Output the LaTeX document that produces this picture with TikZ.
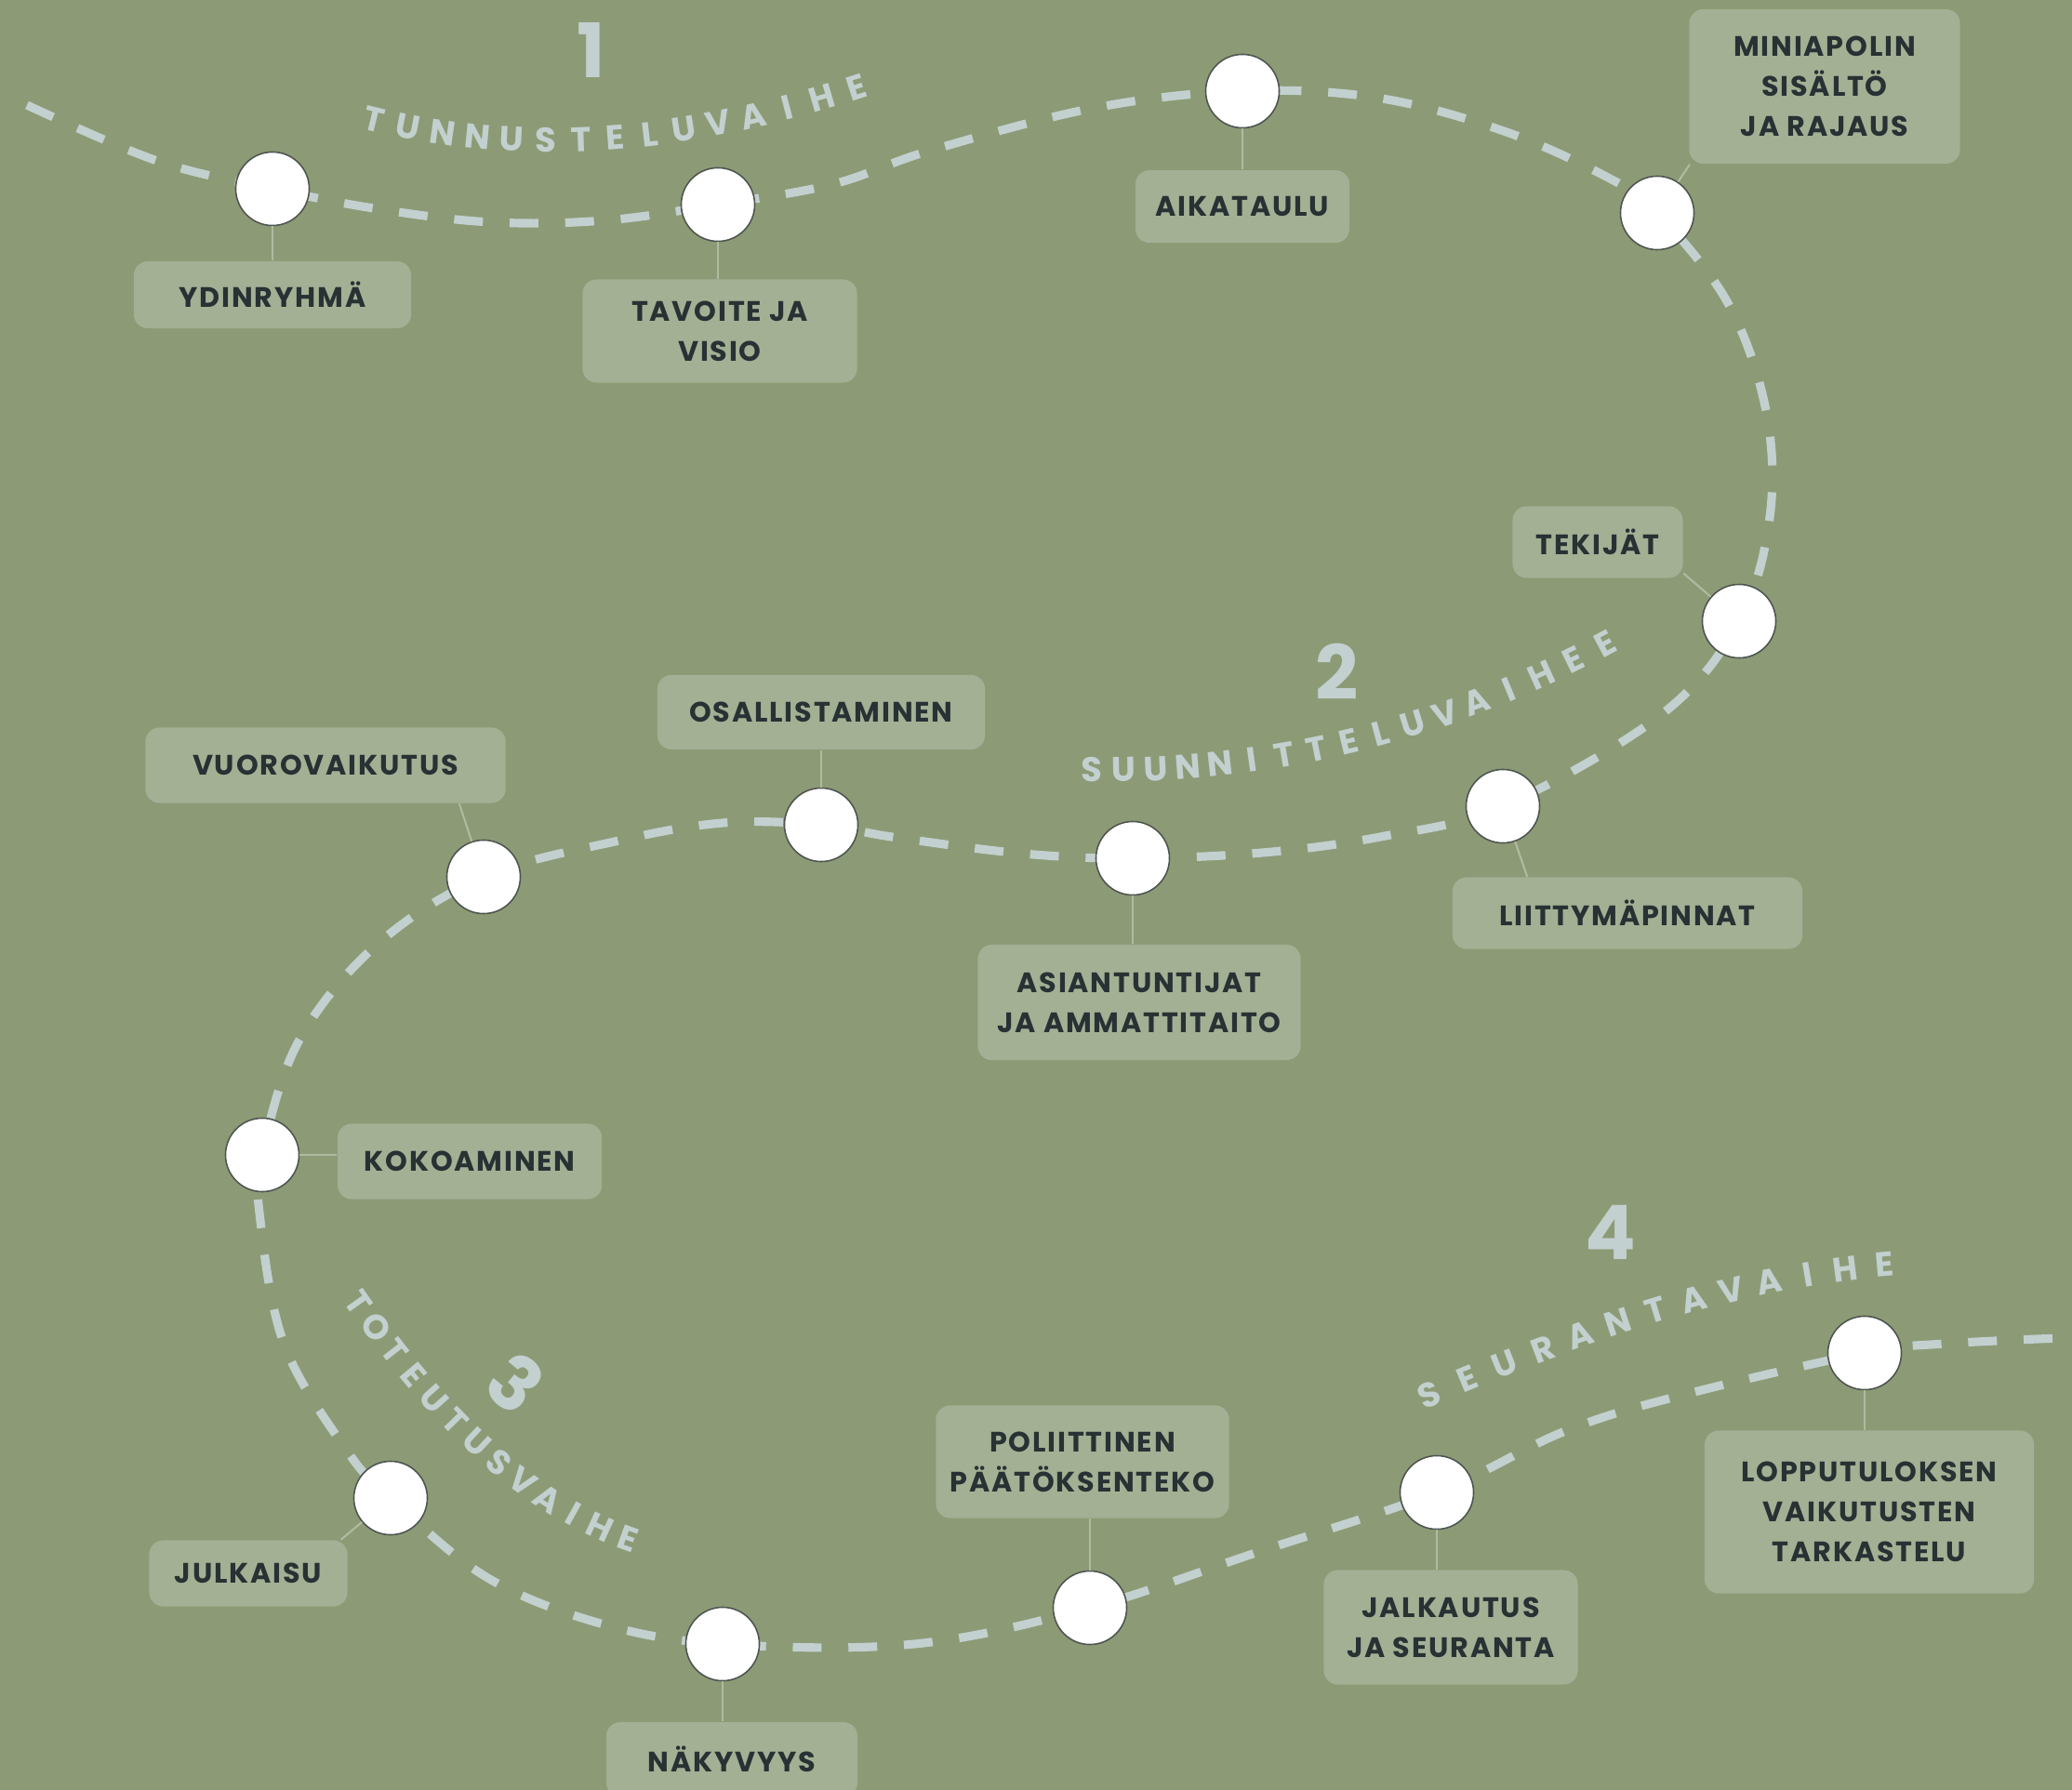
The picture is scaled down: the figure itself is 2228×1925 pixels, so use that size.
\documentclass[tikz,border=0pt]{standalone}
\usepackage{fontspec}
\setmainfont{Poppins}
\usepackage{tikz}
\usetikzlibrary{positioning,backgrounds}

\definecolor{bggreen}{HTML}{8C9B76}
\definecolor{boxgreen}{HTML}{A3B094}
\definecolor{trailblue}{HTML}{C2D0CF}
\definecolor{linkgreen}{HTML}{AEBBA0}
\definecolor{inkdark}{HTML}{283133}
\definecolor{ringgray}{HTML}{4F5550}

\begin{document}
\begin{tikzpicture}[x=0.01cm,y=-0.01cm,
	box/.style={fill=boxgreen,rounded corners=4.3pt,align=center,text=inkdark,inner sep=0pt,font=\fontsize{8.6}{12.2}\selectfont\bfseries\addfontfeatures{LetterSpace=6}},
	stop/.style={circle,draw=ringgray,line width=0.45pt,fill=white,minimum size=0.79cm,inner sep=0pt},
	link/.style={draw=linkgreen,line width=0.6pt},
	trail/.style={draw=trailblue,line width=2.6pt,dash pattern=on 8.8pt off 8.2pt},
	phase/.style={text=trailblue,sloped,inner sep=0pt,font=\fontsize{10.5}{12}\selectfont\bfseries},
	phasenum/.style={text=trailblue,font=\fontsize{23}{24}\selectfont\bfseries}]
	
	\useasboundingbox (0,0) rectangle (2228,1925);
	
	% stops along the path
	\node[stop] (c1) at (293,203) {};
	\node[stop] (c2) at (772,220) {};
	\node[stop] (c3) at (1336,98) {};
	\node[stop] (c4) at (1782,229) {};
	\node[stop] (c5) at (1870,668) {};
	\node[stop] (c6) at (1616,867) {};
	\node[stop] (c7) at (1218,923) {};
	\node[stop] (c8) at (883,887) {};
	\node[stop] (c9) at (520,943) {};
	\node[stop] (c10) at (282,1242) {};
	\node[stop] (c11) at (420,1611) {};
	\node[stop] (c12) at (777,1768) {};
	\node[stop] (c13) at (1172,1729) {};
	\node[stop] (c14) at (1545,1605) {};
	\node[stop] (c15) at (2005,1455) {};
	
	\begin{pgfonlayer}{background}
		\fill[bggreen] (0,0) rectangle (2228,1925);
		\draw[trail] plot[smooth,tension=0.6] coordinates {(29,113) (169,173) (c1.center) (408,225) (529,239) (651,237) (c2.center) (896,198) (1000,162) (1177,116) (c3.center) (1480,105) (1617,141) (1731,192) (c4.center) (1858,326) (1899,442) (1903,556) (c5.center) (1787,768) (c6.center) (1484,900) (1357,917) (c7.center) (1100,918) (959,900) (c8.center) (777,885) (661,905) (c9.center) (404,1017) (321,1120) (c10.center) (280,1313) (306,1447) (373,1560) (c11.center) (523,1696) (646,1746) (c12.center) (983,1768) (c13.center) (1353,1669) (c14.center) (1683,1539) (1810,1500) (c15.center) (2091,1445) (2240,1438)};
	\end{pgfonlayer}
	
	% labels
	\node[box,below=0.37cm of c1,minimum width=2.98cm,minimum height=0.72cm] (b1) {YDINRYHMÄ};
	\node[box,minimum width=2.95cm,minimum height=1.11cm] (b2) at (774,356) {TAVOITE JA\\VISIO};
	\node[box,below=0.44cm of c3,minimum width=2.30cm,minimum height=0.78cm] (b3) {AIKATAULU};
	\node[box,minimum width=2.91cm,minimum height=1.66cm] (b4) at (1962,93) {MINIAPOLIN\\SISÄLTÖ\\JA RAJAUS};
	\node[box,minimum width=1.83cm,minimum height=0.77cm] (b5) at (1718,583) {TEKIJÄT};
	\node[box,minimum width=3.76cm,minimum height=0.77cm] (b6) at (1750,982) {LIITTYMÄPINNAT};
	\node[box,minimum width=3.47cm,minimum height=1.24cm] (b7) at (1225,1078) {ASIANTUNTIJAT\\JA AMMATTITAITO};
	\node[box,above=0.40cm of c8,minimum width=3.52cm,minimum height=0.80cm] (b8) {OSALLISTAMINEN};
	\node[box,minimum width=3.87cm,minimum height=0.81cm] (b9) at (350,823) {VUOROVAIKUTUS};
	\node[box,right=0.40cm of c10,yshift=-0.07cm,minimum width=2.84cm,minimum height=0.81cm] (b10) {KOKOAMINEN};
	\node[box,minimum width=2.13cm,minimum height=0.71cm] (b11) at (267,1692) {JULKAISU};
	\node[box,minimum width=2.70cm,minimum height=0.80cm] (b12) at (787,1892) {NÄKYVYYS};
	\node[box,minimum width=3.15cm,minimum height=1.21cm] (b13) at (1164,1572) {POLIITTINEN\\PÄÄTÖKSENTEKO};
	\node[box,minimum width=2.73cm,minimum height=1.23cm] (b14) at (1560,1750) {JALKAUTUS\\JA SEURANTA};
	\node[box,minimum width=3.54cm,minimum height=1.75cm] (b15) at (2010,1626) {LOPPUTULOKSEN\\VAIKUTUSTEN\\TARKASTELU};
	
	\draw[link] (c1) -- (c1 |- b1.north);
	\draw[link] (c2) -- (c2 |- b2.north);
	\draw[link] (c3) -- (c3 |- b3.north);
	\draw[link] (c4) -- (b4.210);
	\draw[link] (c5) -- (b5.-20);
	\draw[link] (c6) -- (b6.160);
	\draw[link] (c7) -- (c7 |- b7.north);
	\draw[link] (c8) -- (c8 |- b8.south);
	\draw[link] (c9) -- (b9.-16);
	\draw[link] (c10) -- (c10 -| b10.west);
	\draw[link] (c11) -- (b11.20);
	\draw[link] (c12) -- (c12 |- b12.north);
	\draw[link] (c13) -- (c13 |- b13.south);
	\draw[link] (c14) -- (c14 |- b14.north);
	\draw[link] (c15) -- (c15 |- b15.north);
	
	% phases
	\node[phasenum] (n1) at (636,54) {1};
	\node[phasenum] (n2) at (1438,722) {2};
	\node[phasenum,rotate=-40] (n3) at (554,1487) {3};
	\node[phasenum] (n4) at (1732,1325) {4};
	
	\path (402,128) .. controls (575,170) and (748,150) .. (921,94)
		foreach \ch [count=\i from 0] in {T,U,N,N,U,S,T,E,L,U,V,A,I,H,E} {node[phase,pos=\i/14] {\ch}};
	\path (1174,828) .. controls (1358,830) and (1542,790) .. (1726,692)
		foreach \ch [count=\i from 0] in {S,U,U,N,N,I,T,T,E,L,U,V,A,I,H,E,E} {node[phase,pos=\i/16] {\ch}};
	\path (385,1401) .. controls (460,1507) and (553,1611) .. (675,1655)
		foreach \ch [count=\i from 0] in {T,O,T,E,U,T,U,S,V,A,I,H,E} {node[phase,pos=\i/12] {\ch}};
	\path (1537,1500) .. controls (1700,1430) and (1860,1375) .. (2026,1360)
		foreach \ch [count=\i from 0] in {S,E,U,R,A,N,T,A,V,A,I,H,E} {node[phase,pos=\i/12] {\ch}};
	
\end{tikzpicture}
\end{document}
